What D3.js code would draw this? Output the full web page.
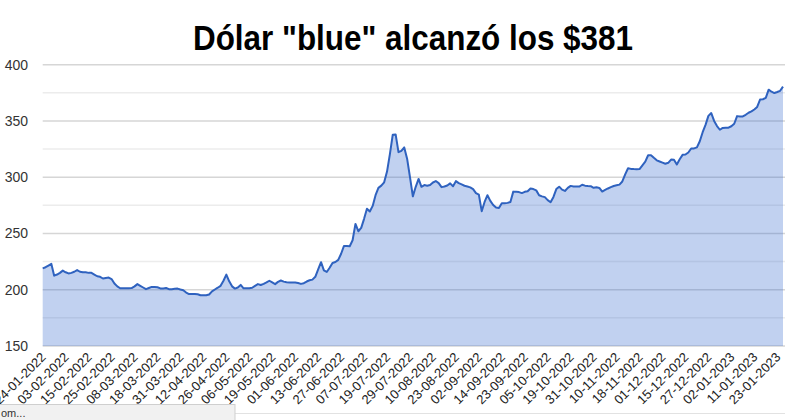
<!DOCTYPE html>
<html><head><meta charset="utf-8">
<script src="https://cdn.jsdelivr.net/npm/d3@7"></script>
<style>html,body{margin:0;padding:0;background:#fff;overflow:hidden}</style>
</head><body>
<svg id="c" width="785" height="420"></svg>
<script>
const title = 'Dólar "blue" alcanzó los $381';
const tickLabels = ["24-01-2022","03-02-2022","15-02-2022","25-02-2022","08-03-2022","18-03-2022","31-03-2022","12-04-2022","26-04-2022","06-05-2022","19-05-2022","01-06-2022","13-06-2022","27-06-2022","07-07-2022","19-07-2022","29-07-2022","10-08-2022","23-08-2022","02-09-2022","14-09-2022","23-09-2022","05-10-2022","19-10-2022","31-10-2022","10-11-2022","18-11-2022","01-12-2022","15-12-2022","27-12-2022","02-01-2023","11-01-2023","23-01-2023"];
const labelStep = 8;
const yTicks = [150,200,250,300,350,400];
const yMinor = [175,225,275,325,375];
const values = [
219,220,221.5,223,212.5,213.5,215,217,215.5,214.5,
215,216,217.5,216,215.5,215.5,215,215,213.5,212,
211.5,210,210.5,210.8,209.5,205.5,203,201.3,201.3,201.3,
201.3,201.5,203,205,203.5,202,200.5,201.5,202.5,202.5,
202.2,201.2,201.2,201.5,200.5,200.5,200.8,201,200.2,199.5,
197.5,196.2,196.2,196.3,196,195.1,195.1,195.1,195.8,198.5,
200.2,201.8,203.5,208,213.5,207.5,203,201,202,204.3,
201.3,201.3,201.3,201.8,203.5,205,204.2,205.2,206.5,208,
206.5,205,207,208.2,207.2,206.7,206.5,206.5,206.4,206,
205.2,205.8,207.3,208.4,209,211.5,218,224.5,217.2,215.8,
219.5,223.8,224.6,226.5,232,238.9,238.9,238.7,244,258.5,
252,255,263,272,269.5,274.5,284,290.5,292.5,295.5,
305,320.5,337.8,338,322.3,323.4,326.5,316.5,300,283,
291.5,298.5,291.5,293,292.5,293.1,295.3,296.6,294.8,291.2,
291.7,292.6,294.5,292,296.5,294.7,293.6,292.4,291.8,291,
289.4,285.8,284.5,269.8,278,284,279,275.3,273,272.6,
276.9,276.9,277.2,278,287.2,287,286.8,285.9,287,287.5,
290,289.5,288.3,284,283,282.3,279.6,277.8,282.5,289.5,
291.6,289,287.8,290.5,292.3,291.8,291.7,291.7,293.3,292.5,
292.2,292,290.6,291,290.5,287.3,288.7,290,291.2,292.2,
292.8,293.4,296.2,302.5,308,307.4,307.2,307.1,307.3,310.5,
313.8,319.5,319.5,317.2,315,314,313,312,312.8,315.7,
315.5,311.3,316,319.9,320.2,322,325.5,325.6,326.5,332,
340,346.5,354.5,357,350,345.5,342.2,343.8,344,344,
345.3,347.5,354.3,354,354,355.5,357.3,358.5,360.2,362.5,
369,369.3,370.5,377.8,376,374.8,375.7,376.8,380.5
];

const svg = d3.select("#c");
const L = 42.7, R = 783, T = 64.7, B = 346;
const x = d3.scaleLinear().domain([0, values.length - 1]).range([L, R]);
const y = d3.scaleLinear().domain([150, 400]).range([B, T]);

// title (condensed to match the reference's narrow bold face)
svg.append("text").attr("x", 413).attr("y", 50).attr("text-anchor", "middle")
  .attr("font-family", "'Liberation Sans Narrow','Arial Narrow',Arial,'Liberation Sans',sans-serif")
  .attr("font-weight", "bold").attr("font-size", 35).attr("fill", "#000")
  .attr("textLength", 440).attr("lengthAdjust", "spacingAndGlyphs").text(title);

// gridlines
svg.append("g").selectAll("line").data(yMinor).join("line")
  .attr("x1", L).attr("x2", 785).attr("y1", d => y(d)).attr("y2", d => y(d))
  .attr("stroke", "#ececec").attr("stroke-width", 1.5);
svg.append("g").selectAll("line").data(yTicks).join("line")
  .attr("x1", L).attr("x2", 785).attr("y1", d => y(d)).attr("y2", d => y(d))
  .attr("stroke", "#d6d6d6").attr("stroke-width", 1.5);

// y labels
svg.append("g").selectAll("text").data(yTicks).join("text")
  .attr("x", 28).attr("y", d => y(d) + 5).attr("text-anchor", "end")
  .attr("font-family", "Arial,'Liberation Sans',sans-serif").attr("font-size", 14)
  .attr("fill", "#333").text(d => d);

// area + line
const area = d3.area().x((d, i) => x(i)).y0(y(150)).y1(d => y(d));
const line = d3.line().x((d, i) => x(i)).y(d => y(d));
svg.append("path").datum(values).attr("d", area).attr("fill", "#3366cc").attr("fill-opacity", 0.3);
svg.append("path").datum(values).attr("d", line).attr("fill", "none")
  .attr("stroke", "#2f62bf").attr("stroke-width", 2).attr("stroke-linejoin", "round");

// x labels
svg.append("g").selectAll("text").data(tickLabels).join("text")
  .attr("transform", (d, i) => `translate(${x(i * labelStep) + 4},${358}) rotate(-45)`)
  .attr("text-anchor", "end")
  .attr("font-family", "Arial,'Liberation Sans',sans-serif").attr("font-size", 13)
  .attr("fill", "#222").text(d => d);

// bottom frame line and status bubble
svg.append("line").attr("x1", 0).attr("x2", 785).attr("y1", 413.5).attr("y2", 413.5)
  .attr("stroke", "#e2e2e2").attr("stroke-width", 1);
svg.append("rect").attr("x", -1).attr("y", 404.5).attr("width", 236).attr("height", 17)
  .attr("fill", "#f1f1f1").attr("stroke", "#cfcfcf");
svg.append("text").attr("x", 1).attr("y", 417).attr("font-family", "Arial,sans-serif")
  .attr("font-size", 11).attr("fill", "#333").text("om...");
</script>
</body></html>
